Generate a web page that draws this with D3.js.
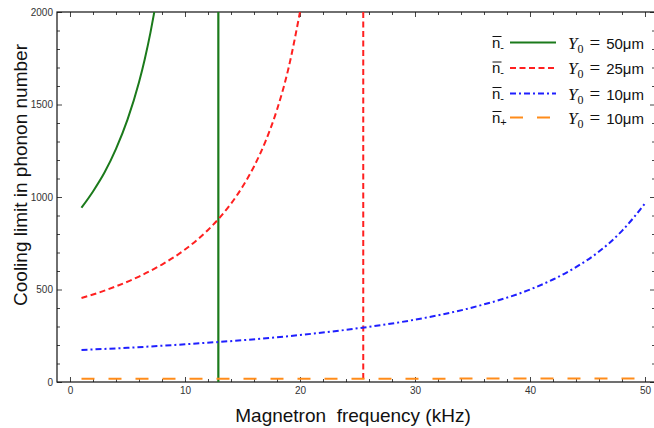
<!DOCTYPE html>
<html>
<head>
<meta charset="utf-8">
<script src="https://cdn.jsdelivr.net/npm/d3@7"></script>
<style>
  html, body { margin: 0; padding: 0; background: #fff; }
  svg { display: block; }
</style>
</head>
<body>
<svg id="chart" width="654" height="428"></svg>
<script>
// ---- data ----
const greenX = [1, 2, 3, 4, 5, 6, 6.5, 7, 7.33];
const greenY = [942, 1030, 1132, 1260, 1418, 1620, 1745, 1890, 2000];
const redX = [1, 2, 4, 6, 8, 10, 12, 13, 14, 15, 16, 17, 18, 19, 20];
const redY = [454, 473, 517, 570, 635, 716, 822, 887, 964, 1055, 1165, 1301, 1472, 1696, 2000];
const blueX = [1, 5, 10, 15, 20, 25, 30, 35, 40, 42, 44, 46, 48, 50];
const blueY = [173, 185, 204, 226, 254, 290, 337, 403, 500, 554, 621, 705, 817, 965];
const orangeX = [1, 10, 20, 30, 40, 50];
const orangeY = [17, 17, 18, 18, 19, 19];
const greenLimit = 12.9;   // vertical asymptote, Y0 = 50um
const redLimit = 25.5;     // vertical asymptote, Y0 = 25um
const xMajorTicks = [0, 10, 20, 30, 40, 50];
const yMajorTicks = [0, 500, 1000, 1500, 2000];
const legendLabels = ["50μm", "25μm", "10μm", "10μm"];
const legendSubs = ["-", "-", "-", "+"];
const xTitle = "Magnetron  frequency (kHz)";
const yTitle = "Cooling limit in phonon number";

// ---- layout ----
const svg = d3.select("#chart");
const L = 57, T = 12, R = 655, B = 382;
const x = d3.scaleLinear().domain([-1.13, 50.87]).range([L, R]);
const y = d3.scaleLinear().domain([0, 2000]).range([B, T]);

const xMinor = d3.range(0, 51, 2).filter(v => v % 10 !== 0);
const yMinor = d3.range(0, 2001, 100).filter(v => v % 500 !== 0);

const tickColor = "#444";
function styleAxis(g) {
  g.select(".domain").remove();
  g.selectAll(".tick line").attr("stroke", tickColor).attr("stroke-width", 1);
  g.selectAll(".tick text").attr("fill", "#333")
    .style("font-family", "'Liberation Sans', Arial, sans-serif").style("font-size", "10px");
}

// bottom
svg.append("g").attr("transform", `translate(0,${B})`)
  .call(d3.axisBottom(x).tickValues(xMajorTicks).tickSize(-5).tickPadding(5).tickFormat(d3.format("d")))
  .call(styleAxis);
svg.append("g").attr("transform", `translate(0,${B})`)
  .call(d3.axisBottom(x).tickValues(xMinor).tickSize(-3).tickFormat(""))
  .call(styleAxis);
// top
svg.append("g").attr("transform", `translate(0,${T})`)
  .call(d3.axisTop(x).tickValues(xMajorTicks).tickSize(-5).tickFormat(""))
  .call(styleAxis);
svg.append("g").attr("transform", `translate(0,${T})`)
  .call(d3.axisTop(x).tickValues(xMinor).tickSize(-3).tickFormat(""))
  .call(styleAxis);
// left
svg.append("g").attr("transform", `translate(${L},0)`)
  .call(d3.axisLeft(y).tickValues(yMajorTicks).tickSize(-5).tickPadding(4).tickFormat(d3.format("d")))
  .call(styleAxis);
svg.append("g").attr("transform", `translate(${L},0)`)
  .call(d3.axisLeft(y).tickValues(yMinor).tickSize(-3).tickFormat(""))
  .call(styleAxis);
// right
svg.append("g").attr("transform", `translate(${R},0)`)
  .call(d3.axisRight(y).tickValues(yMajorTicks).tickSize(-5).tickFormat(""))
  .call(styleAxis);
svg.append("g").attr("transform", `translate(${R},0)`)
  .call(d3.axisRight(y).tickValues(yMinor).tickSize(-3).tickFormat(""))
  .call(styleAxis);

// frame
svg.append("rect").attr("x", L).attr("y", T).attr("width", R - L).attr("height", B - T)
  .attr("fill", "none").attr("stroke", "#111").attr("stroke-width", 1.2);

// clip
svg.append("clipPath").attr("id", "clip").append("rect")
  .attr("x", L).attr("y", T).attr("width", R - L).attr("height", B - T);
const plot = svg.append("g").attr("clip-path", "url(#clip)");

const line = d3.line().x(d => x(d[0])).y(d => y(d[1])).curve(d3.curveMonotoneX);
const zip = (a, b) => a.map((v, i) => [v, b[i]]);

const styles = {
  green: { color: "#1b7a1b", dash: null },
  red: { color: "#ff2020", dash: "6,3.5" },
  blue: { color: "#1f1fff", dash: "6,3,2,3" },
  orange: { color: "#ff8c1a", dash: "13,14" }
};

// vertical lines
plot.append("line").attr("x1", x(greenLimit)).attr("x2", x(greenLimit))
  .attr("y1", y(0)).attr("y2", y(2000))
  .attr("stroke", styles.green.color).attr("stroke-width", 2.2);
plot.append("line").attr("x1", x(redLimit)).attr("x2", x(redLimit))
  .attr("y1", y(2000)).attr("y2", y(0))
  .attr("stroke", styles.red.color).attr("stroke-width", 2).attr("stroke-dasharray", styles.red.dash);

const series = [
  { d: zip(orangeX, orangeY), s: styles.orange },
  { d: zip(blueX, blueY), s: styles.blue },
  { d: zip(redX, redY), s: styles.red },
  { d: zip(greenX, greenY), s: styles.green }
];
series.forEach(o => {
  plot.append("path").datum(o.d).attr("d", line)
    .attr("fill", "none").attr("stroke", o.s.color).attr("stroke-width", 2)
    .attr("stroke-dasharray", o.s.dash);
});

// legend
const legStyles = [styles.green, styles.red, styles.blue, styles.orange];
const legRowY = [42.5, 68, 93.5, 117.5];
legStyles.forEach((s, i) => {
  const cy = legRowY[i];
  const g = svg.append("g");
  const t = g.append("text").attr("x", 492).attr("y", cy + 5)
    .style("font-family", "'Liberation Sans', Arial, sans-serif").style("font-size", "15px").attr("fill", "#111");
  t.append("tspan").text("n");
  t.append("tspan").attr("dy", 3).style("font-size", "11px").text(legendSubs[i]);
  g.append("line").attr("x1", 492.5).attr("x2", 501.5).attr("y1", cy - 6).attr("y2", cy - 6)
    .attr("stroke", "#111").attr("stroke-width", 1);
  g.append("line").attr("x1", 510).attr("x2", 556).attr("y1", cy).attr("y2", cy)
    .attr("stroke", s.color).attr("stroke-width", 2).attr("stroke-dasharray", s.dash);
  const t2 = g.append("text").attr("x", 568).attr("y", cy + 6).attr("fill", "#111")
    .style("font-family", "'Liberation Serif', 'Times New Roman', serif").style("font-size", "17px");
  t2.append("tspan").style("font-style", "italic").text("Y");
  t2.append("tspan").attr("dy", 4).style("font-size", "12px").text("0");
  t2.append("tspan").attr("dy", -4).attr("dx", 6).style("font-size", "19px").text("=");
  t2.append("tspan").attr("dx", 6)
    .style("font-family", "'Liberation Sans', Arial, sans-serif").style("font-size", "15px")
    .text(legendLabels[i]);
});

// axis titles
svg.append("text").attr("x", 353).attr("y", 422).attr("text-anchor", "middle")
  .style("white-space", "pre")
  .style("font-family", "'Liberation Sans', Arial, sans-serif").style("font-size", "19px").attr("fill", "#111")
  .text(xTitle);
svg.append("text").attr("transform", "translate(27,175) rotate(-90)").attr("text-anchor", "middle")
  .style("font-family", "'Liberation Sans', Arial, sans-serif").style("font-size", "19px").attr("fill", "#111")
  .text(yTitle);
</script>
</body>
</html>
